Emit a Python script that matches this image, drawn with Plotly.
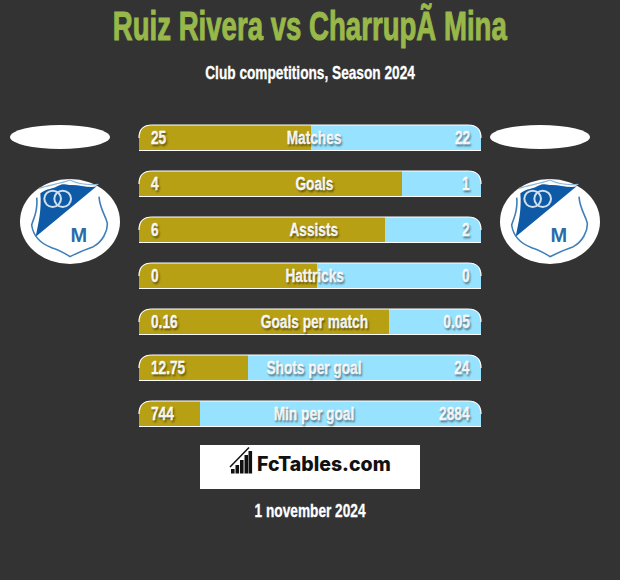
import json
import plotly.graph_objects as go

W, H = 620, 580
BG = "#333333"
GOLD = "#b8a014"
SKY = "#96e2ff"
FONT = "Liberation Sans"

title_text = "Ruiz Rivera vs CharrupÃ Mina"
subtitle_text = "Club competitions, Season 2024"
date_text = "1 november 2024"
brand_text = "FcTables.com"

categories = ["Matches", "Goals", "Assists", "Hattricks", "Goals per match", "Shots per goal", "Min per goal"]
left_labels = ["25", "4", "6", "0", "0.16", "12.75", "744"]
right_labels = ["22", "1", "2", "0", "0.05", "24", "2884"]
left_share = [50.3, 76.9, 71.9, 52.0, 73.1, 31.9, 17.8]
right_share = [49.7, 23.1, 28.1, 48.0, 26.9, 68.1, 82.2]


def px(x):
    return x / W


def py(y):
    return 1 - y / H


def path(cmds):
    out = []
    for c in cmds:
        if isinstance(c, str):
            out.append(c)
        else:
            out.append(f"{px(c[0]):.5f},{py(c[1]):.5f}")
    return " ".join(out)


def pshape(cmds, fill=None, line=None, lw=0, layer="above"):
    d = dict(type="path", xref="paper", yref="paper", path=path(cmds), layer=layer)
    d["fillcolor"] = fill if fill else "rgba(0,0,0,0)"
    d["line"] = dict(color=line if line else "rgba(0,0,0,0)", width=lw)
    return d


def ell(x0, y0, x1, y1, fill=None, line=None, lw=0):
    return dict(type="circle", xref="paper", yref="paper", x0=px(x0), x1=px(x1), y0=py(y0), y1=py(y1),
                fillcolor=fill if fill else "rgba(0,0,0,0)",
                line=dict(color=line if line else "rgba(0,0,0,0)", width=lw), layer="above")


def rect(x0, y0, x1, y1, fill):
    return dict(type="rect", xref="paper", yref="paper", x0=px(x0), x1=px(x1), y0=py(y0), y1=py(y1),
                fillcolor=fill, line=dict(width=0), layer="above")


fig = go.Figure()
fig.add_bar(y=categories, x=left_share, orientation="h", marker=dict(color=GOLD, line=dict(width=0)), hoverinfo="skip")
fig.add_bar(y=categories, x=right_share, orientation="h", marker=dict(color=SKY, line=dict(width=0)), hoverinfo="skip")

shapes, notes, squeeze = [], [], []
SH = "1.5px 1.5px 2px rgba(0,0,0,0.4)"


def note(text, x, y, size, color="white", anchor="center", family=FONT, shadow=None, yref="paper",
         scale=0.72, weight="bold", stroke=0.3, yshift=0):
    notes.append(dict(text=text, x=px(x), y=(py(y) if yref == "paper" else y), xref="paper", yref=yref,
                      xanchor=anchor, yanchor="middle", showarrow=False, yshift=yshift,
                      font=dict(family=family, size=size, color=color, weight=weight,
                                **({"shadow": shadow} if shadow else {}))))
    squeeze.append((scale, anchor, stroke, color))


X0, X1, R = 139, 481, 13
for i, cat in enumerate(categories):
    top = 125 + 46 * i
    bot = top + 26
    shapes.append(pshape(["M", (X0 - 1, top - 1), "L", (X0 + R, top - 1), "L", (X0 + R, top), "Q", (X0, top), (X0, top + R),
                          "L", (X0 - 1, top + R), "Z"], fill=BG))
    shapes.append(pshape(["M", (X1 + 1, top - 1), "L", (X1 - R, top - 1), "L", (X1 - R, top), "Q", (X1, top), (X1, top + R),
                          "L", (X1 + 1, top + R), "Z"], fill=BG))
    shapes.append(pshape(["M", (X0, top + R), "Q", (X0, top), (X0 + R, top), "L", (X1 - R, top),
                          "Q", (X1, top), (X1, top + R)], line="white", lw=1.2))
    shapes.append(pshape(["M", (X0, bot - 0.5), "L", (X1, bot - 0.5)], line="white", lw=1.2))
    note(left_labels[i], 148.5, cat, 19, anchor="left", shadow=SH, yref="y", yshift=1)
    note(right_labels[i], 471.5, cat, 19, anchor="right", shadow=SH, yref="y", yshift=1)
    note(cat, 314, cat, 19, shadow=SH, yref="y", yshift=1)

# top ovals
shapes.append(ell(10, 125, 110, 149, fill="white"))
shapes.append(ell(490, 125, 590, 149, fill="white"))

# crests, traced in a crop-local frame
BLUE = "#0f5aa6"
EDGE = "#3f7fb8"


def crest(dx):
    def z(a, b):
        return (15 + a / 3 + dx, 175 + b / 3)
    shapes.append(ell(20 + dx, 179, 120 + dx, 264, fill="white"))
    shapes.append(pshape(["M", z(76, 55), "C", z(95, 40), z(115, 42), z(128, 33), "C", z(150, 22), z(160, 32), z(172, 30),
                          "C", z(195, 30), z(225, 40), z(245, 34), "L", z(62, 185), "C", z(72, 140), z(80, 100), z(76, 55), "Z"],
                         fill=BLUE))
    shapes.append(pshape(["M", z(65, 68), "C", z(70, 110), z(55, 130), z(50, 150), "C", z(55, 185), z(75, 205), z(110, 218),
                          "C", z(135, 225), z(150, 235), z(165, 245), "C", z(185, 235), z(205, 225), z(235, 215),
                          "C", z(262, 200), z(278, 170), z(277, 145), "C", z(272, 120), z(255, 105), z(252, 65)],
                         line=EDGE, lw=1.6))
    shapes.append(pshape(["M", z(72, 40), "C", z(100, 30), z(130, 28), z(165, 15), "C", z(195, 30), z(225, 30), z(250, 28)],
                         line="#8fb4d6", lw=1.2))
    shapes.append(ell(*z(88, 47), *z(138, 96), line="#cfe0ee", lw=2))
    shapes.append(ell(*z(118, 47), *z(168, 96), line="#cfe0ee", lw=2))
    note("M", 15 + 193 / 3 + dx, 175 + 178 / 3, 21, color="#2a6ca6", scale=0.95, stroke=0)


crest(0)
crest(480)

# brand block
shapes.append(rect(200, 445, 420, 489, "white"))
brand_bars = [(231, 469), (235.5, 465), (240, 460), (244.5, 455), (248.5, 451)]
for bx, bt in brand_bars:
    shapes.append(rect(bx, bt, bx + 3.6, 473.5, "#111111"))
shapes.append(pshape(["M", (230, 467), "L", (249, 447.5)], line="#111111", lw=1.5))
note(brand_text, 323.5, 464, 19.5, color="#111111", family="Inter", scale=1, weight=800, stroke=0)

note(title_text, 310, 25.5, 40, color="#99b84a", scale=0.69, stroke=1)
note(subtitle_text, 310, 73, 18, scale=0.76)
note(date_text, 310, 511, 18, scale=0.76)

fig.update_layout(
    width=W, height=H, autosize=False, barmode="stack", bargap=20 / 46, showlegend=False,
    paper_bgcolor=BG, plot_bgcolor=BG, margin=dict(l=0, r=0, t=0, b=0),
    xaxis=dict(domain=[139 / W, 481 / W], range=[0, 100], visible=False, fixedrange=True),
    yaxis=dict(domain=[1 - 437 / H, 1 - 115 / H], autorange="reversed", visible=False, fixedrange=True,
               categoryorder="array", categoryarray=categories),
    shapes=shapes, annotations=notes,
)
js = """
document.body.style.margin='0';document.body.style.background='%s';
var sq=%s;
document.querySelectorAll('g.annotation').forEach(function(g){
  var s=sq[+g.getAttribute('data-index')];var t=g.querySelector('text');
  if(!s||!t)return;
  t.style.transformBox='fill-box';
  t.style.transformOrigin=s[1];
  t.style.transform='scaleX('+s[0]+')';
  if(s[2]>0){t.style.stroke=s[3];t.style.strokeWidth=s[2]+'px';}
});
""" % (BG, json.dumps(squeeze))
fig.write_html("out.html", config={"displayModeBar": False}, post_script=js)
